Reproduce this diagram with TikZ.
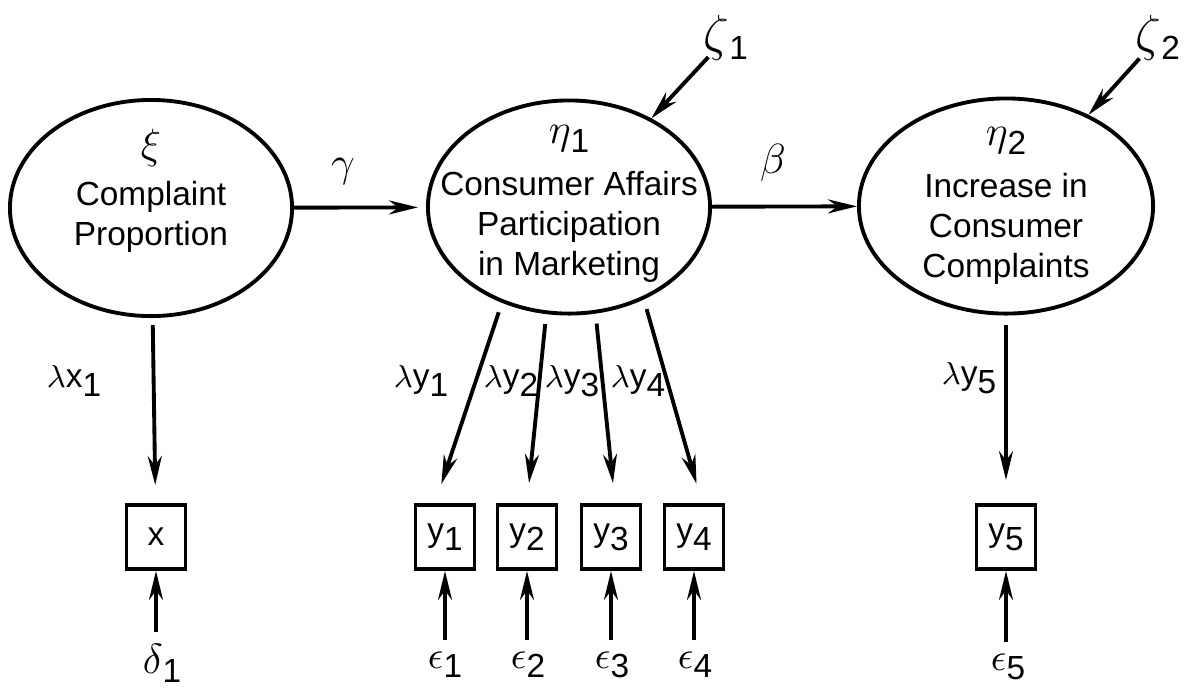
\documentclass[tikz,border=0pt]{standalone}
\usepackage{fontspec}
\setmainfont{Liberation Sans}
\usetikzlibrary{shapes.geometric,arrows.meta}

\newcommand{\lo}[1]{\raisebox{-0.5ex}{#1}}
\newcommand{\gk}[2][13]{{\fontsize{#1}{#1}\selectfont$#2$}}

\tikzset{
  latent/.style={ellipse, line width=1.1pt, draw, inner sep=0pt},
  manifest/.style={rectangle, line width=1.1pt, draw, minimum width=0.59cm, minimum height=0.64cm, inner sep=0pt},
  arr/.style={-{Stealth[length=2.9mm, width=1.4mm]}, line width=1.1pt},
}

\begin{document}
\begin{tikzpicture}[x=0.01cm, y=-0.01cm, font=\fontsize{9.5}{11.4}\selectfont]
\useasboundingbox (0,0) rectangle (1188,699);

% latent variables
\node[latent, minimum width=2.82cm, minimum height=2.16cm] (xi) at (151,208) {};
\node[latent, minimum width=2.82cm, minimum height=2.13cm] (eta1) at (569,207) {};
\node[latent, minimum width=2.94cm, minimum height=2.15cm] (eta2) at (1006,206) {};

\node[align=center, inner sep=0pt] (xitext) at (151,191) {\gk{\xi}\\[2pt]Complaint\\Proportion};
\node[align=center, inner sep=0pt] (eta1text) at (569,204) {\gk{\eta}\lo{1}\\[3.5pt]Consumer Affairs\\Participation\\in Marketing};
\node[align=center, inner sep=0pt] (eta2text) at (1006,206) {\gk{\eta}\lo{2}\\[3.5pt]Increase in\\Consumer\\Complaints};

% disturbances
\node[inner sep=0.5pt] (z1) at (726,38) {\gk[14]{\zeta}\lo{1}};
\node[inner sep=0.5pt] (z2) at (1158,38) {\gk[14]{\zeta}\lo{2}};

% indicators
\node[manifest] (x) at (156,537) {x};
\node[manifest] (y1) at (445,537) {y\lo{1}};
\node[manifest] (y2) at (527,537) {y\lo{2}};
\node[manifest] (y3) at (611,537) {y\lo{3}};
\node[manifest] (y4) at (694,537) {y\lo{4}};
\node[manifest] (y5) at (1006,537) {y\lo{5}};

% measurement errors
\node (d1) at (162,663) {\gk[12]{\delta}\lo{1}};
\node (e1) at (445,665) {\gk[11]{\epsilon}\lo{1}};
\node (e2) at (528,665) {\gk[11]{\epsilon}\lo{2}};
\node (e3) at (612,665) {\gk[11]{\epsilon}\lo{3}};
\node (e4) at (695,665) {\gk[11]{\epsilon}\lo{4}};
\node (e5) at (1008,667) {\gk[11]{\epsilon}\lo{5}};

% path coefficients
\node (g) at (343,172) {\gk{\gamma}};
\node (b) at (773,163) {\gk{\beta}};
\node (lx1) at (74,381) {$\lambda$x\lo{1}};
\node (ly1) at (421,381) {$\lambda$y\lo{1}};
\node (ly2) at (511,381) {$\lambda$y\lo{2}};
\node (ly3) at (572,381) {$\lambda$y\lo{3}};
\node (ly4) at (638,381) {$\lambda$y\lo{4}};
\node (ly5) at (969,378) {$\lambda$y\lo{5}};

\draw[arr, shorten >=0.08cm] (xi) -- (eta1);
\draw[arr] (eta1) -- (eta2);
\draw[arr, shorten <=-0.08cm] (z1) -- (eta1);
\draw[arr, shorten <=-0.06cm] (z2) -- (eta2);

\draw[arr, shorten <=0.07cm, shorten >=0.18cm] (xi) -- (x);
\draw[arr, shorten <=0.1cm, shorten >=0.2cm] (eta1.235) -- ([xshift=-0.1cm]y1.north);
\draw[arr, shorten <=0.1cm, shorten >=0.2cm] (eta1.258) -- (y2.north);
\draw[arr, shorten <=0.1cm, shorten >=0.2cm] (eta1.284) -- ([xshift=0.04cm]y3.north);
\draw[arr, shorten <=0.1cm, shorten >=0.2cm] (eta1.309) -- ([xshift=0.08cm]y4.north);
\draw[arr, shorten <=0.09cm, shorten >=0.23cm] (eta2) -- (y5);

\draw[arr] (d1.north -| x) -- (x);
\draw[arr] (e1.north -| y1) -- (y1);
\draw[arr] (e2.north -| y2) -- (y2);
\draw[arr] (e3.north -| y3) -- (y3);
\draw[arr] (e4.north -| y4) -- (y4);
\draw[arr] (e5.north -| y5) -- (y5);

\end{tikzpicture}
\end{document}
